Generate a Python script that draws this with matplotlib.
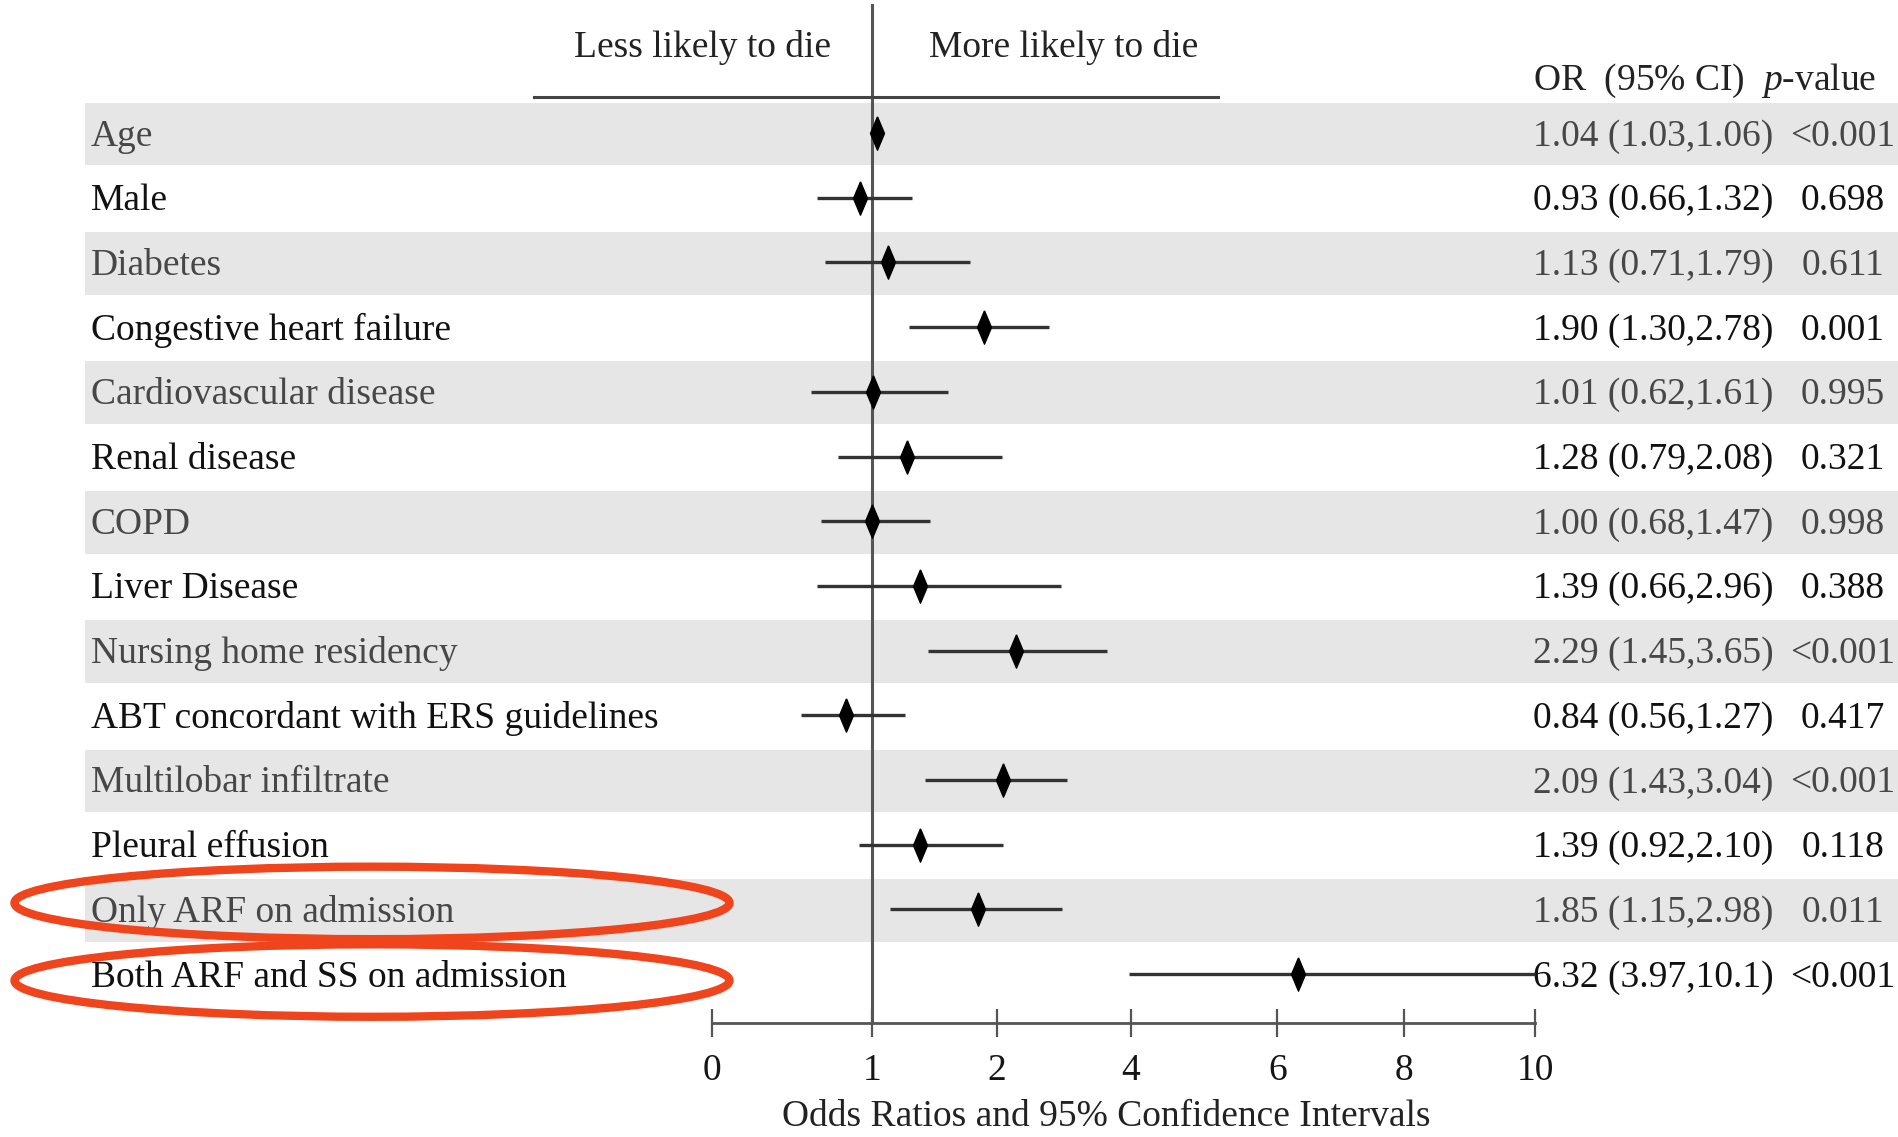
import numpy as np
import matplotlib
matplotlib.use("Agg")
import matplotlib.pyplot as plt
from matplotlib import transforms
from matplotlib.patches import Rectangle, Ellipse

plt.rcParams['font.family'] = ['Liberation Serif', 'DejaVu Serif']
plt.rcParams['mathtext.fontset'] = 'custom'
plt.rcParams['mathtext.rm'] = 'Liberation Serif'
plt.rcParams['mathtext.it'] = 'Liberation Serif:italic'

labels = ["Age", "Male", "Diabetes", "Congestive heart failure",
          "Cardiovascular disease", "Renal disease", "COPD", "Liver Disease",
          "Nursing home residency", "ABT concordant with ERS guidelines",
          "Multilobar infiltrate", "Pleural effusion",
          "Only ARF on admission", "Both ARF and SS on admission"]
odds = [1.04, 0.93, 1.13, 1.90, 1.01, 1.28, 1.00, 1.39, 2.29, 0.84, 2.09, 1.39, 1.85, 6.32]
ci_low = [1.03, 0.66, 0.71, 1.30, 0.62, 0.79, 0.68, 0.66, 1.45, 0.56, 1.43, 0.92, 1.15, 3.97]
ci_high = [1.06, 1.32, 1.79, 2.78, 1.61, 2.08, 1.47, 2.96, 3.65, 1.27, 3.04, 2.10, 2.98, 10.1]
ci_text = ["1.04 (1.03,1.06)", "0.93 (0.66,1.32)", "1.13 (0.71,1.79)", "1.90 (1.30,2.78)",
           "1.01 (0.62,1.61)", "1.28 (0.79,2.08)", "1.00 (0.68,1.47)", "1.39 (0.66,2.96)",
           "2.29 (1.45,3.65)", "0.84 (0.56,1.27)", "2.09 (1.43,3.04)", "1.39 (0.92,2.10)",
           "1.85 (1.15,2.98)", "6.32 (3.97,10.1)"]
p_values = ["<0.001", "0.698", "0.611", "0.001", "0.995", "0.321", "0.998", "0.388",
            "<0.001", "0.417", "<0.001", "0.118", "0.011", "<0.001"]
highlighted = ["Only ARF on admission", "Both ARF and SS on admission"]

# the OR axis is stretched unevenly between its ticks
tick_values = [0, 1, 2, 4, 6, 8, 10]
tick_spacing = [0, 0.194, 0.346, 0.509, 0.687, 0.841, 1.0]


def fwd(x):
    return np.interp(x, tick_values, tick_spacing)


def inv(x):
    return np.interp(x, tick_spacing, tick_values)


W, H = 1899, 1137
FS = 27
fig = plt.figure(figsize=(W / 100, H / 100), dpi=100)
ax = fig.add_axes([712 / W, 1 - 1023 / H, 823 / W, 1023 / H])
ax.set_xscale('function', functions=(fwd, inv))
ax.set_xlim(0, 10)
ax.set_ylim(13.756, -2.056)
ax.patch.set_alpha(0)
for s in ['top', 'right', 'left']:
    ax.spines[s].set_visible(False)
ax.spines['bottom'].set_color('#555555')
ax.spines['bottom'].set_linewidth(2)
ax.set_yticks([])
ax.set_xticks(tick_values)
ax.set_xticklabels([str(t) for t in tick_values])
ax.tick_params(axis='x', direction='inout', length=20, width=1.6, color='#555555',
               labelsize=FS, labelcolor='#151515', pad=12)

fx_dy = transforms.blended_transform_factory(fig.transFigure, ax.transData)
ink = '#111111'
soft = '#474747'
txt_dy = 0.05  # text sits a touch below the row centre

n = len(labels)
y = np.arange(n)
for i in range(n):
    col = soft if i % 2 == 0 else ink
    if i % 2 == 0:
        ax.add_patch(Rectangle((85 / W, i - 0.47), 1 - 85 / W, 0.97,
                               transform=fx_dy, facecolor='#e6e6e6',
                               edgecolor='none', zorder=0, clip_on=False))
    ax.text(91 / W, i + txt_dy, labels[i], transform=fx_dy, fontsize=FS, color=col,
            va='center', ha='left')
    ax.text(1533 / W, i + txt_dy, ci_text[i], transform=fx_dy, fontsize=FS, color=col,
            va='center', ha='left')
    ax.text(1843 / W, i + txt_dy, p_values[i], transform=fx_dy, fontsize=FS, color=col,
            va='center', ha='center')

ax.axvline(1, ymin=0, ymax=0.995, color='#555555', lw=2.2, zorder=2)
ax.hlines(y, ci_low, ci_high, color='#333333', lw=2.4, zorder=3, clip_on=False)
diamond = [(0, 1), (0.42, 0), (0, -1), (-0.42, 0), (0, 1)]
ax.plot(odds, y, linestyle='none', marker=diamond, markersize=24, color='black',
        zorder=4, clip_on=False)

# header
ax.add_line(plt.Line2D([534 / W, 1218 / W], [-0.556, -0.556], transform=fx_dy,
                       color='#444444', lw=2.2, clip_on=False))
ax.text(831 / W, -1.32, "Less likely to die", transform=fx_dy, fontsize=FS,
        color='#222222', ha='right', va='center')
ax.text(929 / W, -1.32, "More likely to die", transform=fx_dy, fontsize=FS,
        color='#222222', ha='left', va='center')
ax.text(1533 / W, -0.81, r"OR  (95% CI)  $\it{p}$-value", transform=fx_dy,
        fontsize=FS, color='#222222', ha='left', va='center')

fig.text(1106 / W, 1 - 1117 / H, "Odds Ratios and 95% Confidence Intervals",
         fontsize=FS, color='#222222', ha='center', va='center')

# circle the admission rows
for lab, dy in zip(highlighted, [-0.1, 0.1]):
    r = labels.index(lab)
    ax.add_patch(Ellipse((372 / W, r + dy), 715 / W, 1.12, transform=fx_dy,
                         facecolor='none', edgecolor='#f0441c', lw=6, zorder=5,
                         clip_on=False))

fig.savefig("out.png", dpi=100)
